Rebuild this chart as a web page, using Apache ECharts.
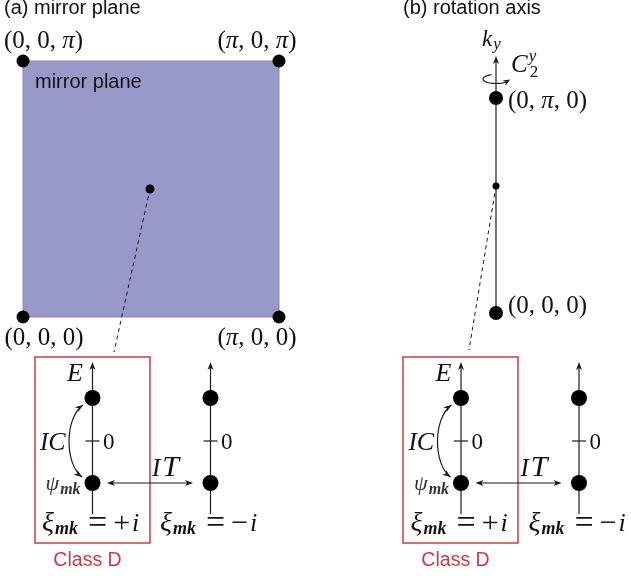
<!DOCTYPE html>
<html>
<head>
<meta charset="utf-8">
<script src="https://cdn.jsdelivr.net/npm/echarts@6/dist/echarts.min.js"></script>
<style>
html,body{margin:0;padding:0;background:#fff;}
#chart{width:631px;height:576px;}
</style>
</head>
<body>
<div id="chart"></div>
<script>
// ---------- data (diagram units: 1 unit = 1 px of the reference layout) ----------
const panelTitles = ['(a) mirror plane', '(b) rotation axis'];
const planeName = 'mirror plane';
const planeCorners = [[23, 61], [279, 61], [279, 317], [23, 317]];
const planeCornerLabels = ['(0, 0, π)', '(π, 0, π)', '(π, 0, 0)', '(0, 0, 0)'];
const rotationAxisEnds = [[496, 56], [496, 313]];
const rotationArcCenter = [496, 79];
const axisPoints = [[496, 98], [496, 313]];
const axisPointLabels = ['(0, π, 0)', '(0, 0, 0)'];
const genericPoints = [[150, 189], [496, 186]];
const linkEnds = [[114, 352], [469, 350]];
const energyAxisX = [92.5, 210.5, 461, 579];
const energyRange = [514, 362];      // axis bottom, arrow tip
const stateLevels = [398, 483];      // upper state, lower state (psi)
const zeroLevel = 441;
const eigenvalues = ['+i', '−i', '+i', '−i'];
const classBoxes = [[35, 357, 150, 543], [403, 357, 518, 543]];
const className = 'Class D';

// ---------- text layout helpers ----------
const SERIF = '"Liberation Serif","Times New Roman",serif';
const SANS = '"Liberation Sans",Arial,sans-serif';
const mctx = document.createElement('canvas').getContext('2d');
function fontOf(kind, size) {
  const fam = kind.indexOf('s') >= 0 ? SANS : SERIF;
  return (kind.indexOf('i') >= 0 ? 'italic ' : '') + (kind.indexOf('b') >= 0 ? 'bold ' : '') + size + 'px ' + fam;
}
function measure(font, t) { mctx.font = font; return mctx.measureText(t).width; }
// piece: [text, kind, size, baselineShift, advance, gapBefore]
function layout(pieces, align) {
  let x = 0, maxX = 0;
  const out = [];
  pieces.forEach(p => {
    const t = p[0], kind = p[1], size = p[2], shift = p[3] || 0, adv = p[4] !== false, gap = p[5] || 0;
    const font = fontOf(kind, size);
    x += gap;
    const w = measure(font, t);
    out.push({ t, font, dx: x, dy: shift - 0.31 * size });
    maxX = Math.max(maxX, x + w);
    if (adv) x += w;
  });
  const off = align === 'center' ? -maxX / 2 : align === 'right' ? -maxX : 0;
  out.forEach(o => { o.dx += off; });
  return out;
}
function coordPieces(str, size) {
  const parts = [];
  str.split(/(π)/).forEach(s => { if (s) parts.push([s, s === 'π' ? 'i' : 'r', size]); });
  return parts;
}
function xiPieces(ev) {
  return [['ξ', 'i', 28], ['mk', 'bi', 18, 3, true, 1], ['=', 'r', 34, 2.5, true, 10],
          [ev.charAt(0), 'r', 30, 1, true, 6], [ev.slice(1), 'i', 26, 0, true, 2]];
}

// ---------- label specs ----------
const labelSpecs = [];
const titleX = [4, 403];
panelTitles.forEach((t, i) => labelSpecs.push({ x: titleX[i], y: 15, pieces: [[t, 's', 20]], align: 'left' }));
labelSpecs.push({ x: planeCorners[0][0] + 12, y: planeCorners[0][1] + 28, pieces: [[planeName, 's', 20]], align: 'left' });
const cornerOff = [[20.5, -12], [-22, -12], [-22, 29], [21, 29]];
planeCornerLabels.forEach((t, i) => labelSpecs.push({
  x: planeCorners[i][0] + cornerOff[i][0], y: planeCorners[i][1] + cornerOff[i][1],
  pieces: coordPieces(t, 25), align: 'center'
}));
const axisLabelOff = [[12, 11], [12, 1]];
axisPointLabels.forEach((t, i) => labelSpecs.push({
  x: axisPoints[i][0] + axisLabelOff[i][0], y: axisPoints[i][1] + axisLabelOff[i][1],
  pieces: coordPieces(t, 25), align: 'left'
}));
labelSpecs.push({ x: rotationAxisEnds[0][0] - 14, y: rotationAxisEnds[0][1] - 9, pieces: [['k', 'i', 23], ['y', 'i', 17, 3, true, 1]], align: 'left' });
labelSpecs.push({ x: rotationAxisEnds[0][0] + 15, y: rotationAxisEnds[0][1] + 17, pieces: [['C', 'i', 25], ['y', 'i', 17, -11, false, 1], ['2', 'r', 17, 5, true, 1]], align: 'left' });
energyAxisX.forEach((ax, i) => {
  labelSpecs.push({ x: ax + 10.5, y: zeroLevel + 9, pieces: [['0', 'r', 23]], align: 'left' });
  labelSpecs.push({ x: ax - 50.5, y: 532, pieces: xiPieces(eigenvalues[i]), align: 'left' });
  if (i % 2 === 0) {
    labelSpecs.push({ x: ax - 9.5, y: energyRange[1] + 20, pieces: [['E', 'i', 26]], align: 'right' });
    labelSpecs.push({ x: ax - 52.5, y: zeroLevel + 10, pieces: [['I', 'i', 25], ['C', 'i', 26]], align: 'left' });
    labelSpecs.push({ x: ax - 47, y: stateLevels[1] + 8, pieces: [['ψ', 'i', 22], ['mk', 'bi', 16, 4, true, 1]], align: 'left', color: '#333' });
    labelSpecs.push({ x: ax + 59.5, y: stateLevels[1] - 6, pieces: [['I', 'i', 25], ['T', 'i', 30, 0, true, 2]], align: 'left' });
  }
});
classBoxes.forEach(b => labelSpecs.push({ x: b[0] + 52.5, y: b[3] + 24, pieces: [[className, 's', 19.5]], align: 'center', color: '#d23a3f' }));

// ---------- geometry derived from data ----------
const axisSegments = energyAxisX.map(x => [x, energyRange[0], x, energyRange[1]])
  .concat([[rotationAxisEnds[1][0], rotationAxisEnds[1][1], rotationAxisEnds[0][0], rotationAxisEnds[0][1]]]);
const tickSegments = energyAxisX.map(x => [x - 7, zeroLevel, x + 7, zeroLevel]);
const itSegments = [0, 1].map(p => [energyAxisX[2 * p] + 14.5, stateLevels[1], energyAxisX[2 * p + 1] - 17.5, stateLevels[1]]);
const icCurves = [0, 1].map(p => [energyAxisX[2 * p] - 9.5, stateLevels[0] + 7, energyAxisX[2 * p] - 10.5, stateLevels[1] - 6]);
const dashedSegments = genericPoints.map((p, i) => [p[0], p[1], linkEnds[i][0], linkEnds[i][1]]);
const statePoints = [];
energyAxisX.forEach(x => stateLevels.forEach(y => statePoints.push([x, y])));

// ---------- drawing helpers ----------
const INK = '#1a1a1a';
function head(tip, from, len, half) {
  const dx = tip[0] - from[0], dy = tip[1] - from[1], L = Math.hypot(dx, dy) || 1;
  const ux = dx / L, uy = dy / L, px = -uy, py = ux;
  const bx = tip[0] - ux * len, by = tip[1] - uy * len;
  return {
    type: 'polygon',
    shape: { points: [tip, [bx + px * half, by + py * half], [tip[0] - ux * len * 0.72, tip[1] - uy * len * 0.72], [bx - px * half, by - py * half]] },
    style: { fill: INK }
  };
}
function segPts(api) {
  return [api.coord([api.value(0), api.value(1)]), api.coord([api.value(2), api.value(3)])];
}
function lineEl(a, b, style) {
  return { type: 'line', shape: { x1: a[0], y1: a[1], x2: b[0], y2: b[1] }, style: Object.assign({ stroke: INK, lineWidth: 1.2 }, style || {}) };
}
const segEncode = { x: [0, 2], y: [1, 3] };

const chart = echarts.init(document.getElementById('chart'));
chart.setOption({
  animation: false,
  backgroundColor: '#fff',
  grid: { left: 0, right: 0, top: 0, bottom: 0, containLabel: false },
  xAxis: { type: 'value', min: 0, max: 631, show: false },
  yAxis: { type: 'value', min: 0, max: 576, inverse: true, show: false },
  series: [
    {
      type: 'custom', name: 'plane', z: 1, silent: true, clip: false,
      data: [planeCorners[0]],
      renderItem: (params, api) => ({
        type: 'polygon',
        shape: { points: planeCorners.map(c => api.coord(c)) },
        style: { fill: '#9999c9', stroke: '#8c8c9c', lineWidth: 1 }
      })
    },
    {
      type: 'custom', name: 'class boxes', z: 2, silent: true, clip: false,
      data: classBoxes, encode: segEncode,
      renderItem: (params, api) => {
        const [a, b] = segPts(api);
        return { type: 'rect', shape: { x: a[0], y: a[1], width: b[0] - a[0], height: b[1] - a[1] }, style: { fill: 'none', stroke: '#d23a3f', lineWidth: 1.5 } };
      }
    },
    {
      type: 'custom', name: 'links', z: 2, silent: true, clip: false,
      data: dashedSegments, encode: segEncode,
      renderItem: (params, api) => { const [a, b] = segPts(api); return lineEl(a, b, { lineWidth: 1, lineDash: [4, 3.5] }); }
    },
    {
      type: 'custom', name: 'axes', z: 2, silent: true, clip: false,
      data: axisSegments, encode: segEncode,
      renderItem: (params, api) => {
        const [a, b] = segPts(api);
        return { type: 'group', children: [lineEl(a, [b[0], b[1] + 5]), head(b, a, 8, 3)] };
      }
    },
    {
      type: 'custom', name: 'ticks', z: 2, silent: true, clip: false,
      data: tickSegments, encode: segEncode,
      renderItem: (params, api) => { const [a, b] = segPts(api); return lineEl(a, b); }
    },
    {
      type: 'custom', name: 'IT', z: 2, silent: true, clip: false,
      data: itSegments, encode: segEncode,
      renderItem: (params, api) => {
        const [a, b] = segPts(api);
        return { type: 'group', children: [lineEl([a[0] + 5, a[1]], [b[0] - 5, b[1]]), head(a, b, 8, 3), head(b, a, 8, 3)] };
      }
    },
    {
      type: 'custom', name: 'IC', z: 2, silent: true, clip: false,
      data: icCurves, encode: segEncode,
      renderItem: (params, api) => {
        const [a, b] = segPts(api);
        const c1 = api.coord([api.value(0) - 18.5, api.value(1) + 13]);
        const c2 = api.coord([api.value(2) - 17.5, api.value(3) - 13]);
        return {
          type: 'group', children: [
            { type: 'bezierCurve', shape: { x1: a[0], y1: a[1], x2: b[0], y2: b[1], cpx1: c1[0], cpy1: c1[1], cpx2: c2[0], cpy2: c2[1] }, style: { stroke: INK, lineWidth: 1.2, fill: 'none' } },
            head(a, c1, 8, 3), head(b, c2, 8, 3)
          ]
        };
      }
    },
    {
      type: 'custom', name: 'rotation', z: 2, silent: true, clip: false,
      data: [rotationArcCenter],
      renderItem: (params, api) => {
        const cx = api.value(0), cy = api.value(1), pts = [];
        for (let t = 250; t >= 22; t -= 6) {
          const r = t * Math.PI / 180;
          pts.push(api.coord([cx + 13 * Math.cos(r), cy + 4.5 * Math.sin(r)]));
        }
        const tipR = 14 * Math.PI / 180;
        const tip = api.coord([cx + 13 * Math.cos(tipR), cy + 4.5 * Math.sin(tipR)]);
        return {
          type: 'group', children: [
            { type: 'polyline', shape: { points: pts }, style: { stroke: INK, lineWidth: 1.2, fill: 'none' } },
            head([tip[0] + 1.5, tip[1] - 0.5], pts[pts.length - 2], 7, 3)
          ]
        };
      }
    },
    { type: 'scatter', name: 'plane corners', z: 3, silent: true, data: planeCorners, symbolSize: 13, itemStyle: { color: '#000', opacity: 1 } },
    { type: 'scatter', name: 'axis points', z: 3, silent: true, data: axisPoints, symbolSize: 14, itemStyle: { color: '#000', opacity: 1 } },
    { type: 'scatter', name: 'generic k', z: 3, silent: true, data: genericPoints, symbolSize: (v, p) => p.dataIndex === 0 ? 9 : 7, itemStyle: { color: '#000', opacity: 1 } },
    { type: 'scatter', name: 'states', z: 3, silent: true, data: statePoints, symbolSize: 16, itemStyle: { color: '#000', opacity: 1 } },
    {
      type: 'custom', name: 'labels', z: 4, silent: true, clip: false,
      data: labelSpecs.map(s => [s.x, s.y]),
      renderItem: (params, api) => {
        const spec = labelSpecs[params.dataIndex];
        const p = api.coord([api.value(0), api.value(1)]);
        const items = layout(spec.pieces, spec.align);
        return {
          type: 'group', x: p[0], y: p[1],
          children: items.map(o => ({
            type: 'text', x: o.dx, y: o.dy,
            style: { text: o.t, font: o.font, fill: spec.color || '#111', align: 'left', verticalAlign: 'middle' }
          }))
        };
      }
    }
  ]
});
</script>
</body>
</html>
